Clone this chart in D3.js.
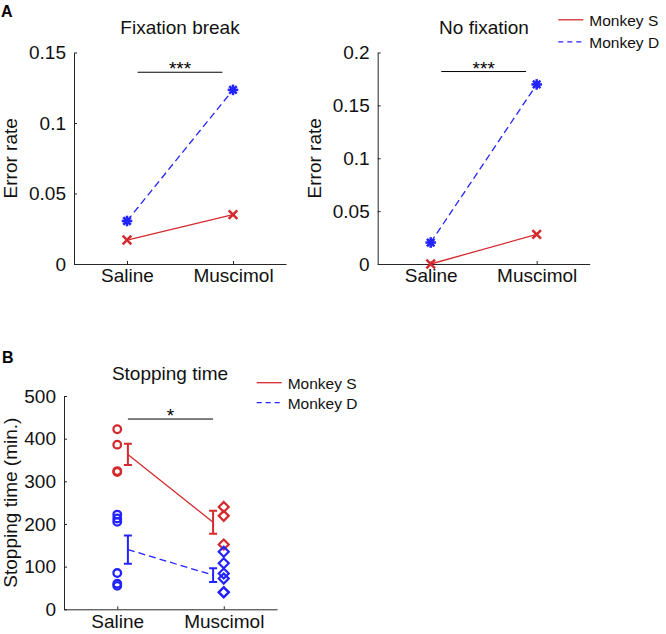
<!DOCTYPE html>
<html><head><meta charset="utf-8">
<script src="https://cdn.jsdelivr.net/npm/d3@7"></script>
<style>
html,body{margin:0;padding:0;background:#fff;}
svg{display:block;font-family:"Liberation Sans",Arial,Helvetica,sans-serif;}
</style></head>
<body><svg id="c" width="666" height="634"></svg>
<script>
// ---- data ----
const groups = ["Saline", "Muscimol"];
const series = ["Monkey S", "Monkey D"];
const fixBreakS = [0.017, 0.035];
const fixBreakD = [0.0305, 0.1235];
const noFixS = [0.0, 0.028];
const noFixD = [0.0203, 0.1698];
const fixTicks = [0, 0.05, 0.1, 0.15];
const noFixTicks = [0, 0.05, 0.1, 0.15, 0.2];
const stopTicks = [0, 100, 200, 300, 400, 500];
const stopS_saline = [422, 386, 324, 322];
const stopS_muscimol = [240, 219, 152];
const stopD_saline = [222, 213, 205, 85, 60, 55];
const stopD_muscimol = [135, 108, 84, 72, 40, 40];
const stopMeanS = [363, 204];
const stopSemS = [25, 27];
const stopMeanD = [140, 80];
const stopSemD = [33, 16];
const sigA1 = {y: 0.136, label: "***"};
const sigA2 = {y: 0.182, label: "***"};
const sigB = {y: 446, label: "*"};

// ---- styles ----
const RED = "#d42a2e", BLUE = "#2323ff", AX = "#262626";
const svg = d3.select("#c");
const FS = 19;

function fmt(d){ return d === 0 ? "0" : String(+d.toFixed(3)); }

function makePanel(o){
  const x = d3.scaleLinear().domain([0.5, 2.5]).range([o.x0, o.x1]);
  const y = d3.scaleLinear().domain(o.ydom).range([o.yb, o.yt]);
  const g = svg.append("g");
  const ya = d3.axisLeft(y).tickValues(o.ticks).tickFormat(fmt).tickSizeInner(-3).tickSizeOuter(0).tickPadding(8);
  const xa = d3.axisBottom(x).tickValues([1, 2]).tickFormat(d => groups[d - 1]).tickSizeInner(-3).tickSizeOuter(0).tickPadding(5);
  const gy = g.append("g").attr("transform", `translate(${o.x0},0)`).call(ya);
  const gx = g.append("g").attr("transform", `translate(0,${o.yb})`).call(xa);
  [gy, gx].forEach(a => {
    a.selectAll("path,line").attr("stroke", AX).attr("stroke-width", 1);
    a.selectAll("text").attr("fill", "#111").attr("font-size", FS).attr("font-family", null);
    a.attr("font-family", null).attr("font-size", null);
  });
  g.append("text").attr("transform", `translate(${o.ylx},${(o.yb + o.yt) / 2}) rotate(-90)`)
    .attr("text-anchor", "middle").attr("font-size", FS).attr("fill", "#111").text(o.ylabel);
  g.append("text").attr("x", o.tx).attr("y", o.ty).attr("text-anchor", "middle")
    .attr("font-size", FS).attr("fill", "#111").text(o.title);
  return {x, y, g};
}

function sig(p, s){
  p.g.append("line").attr("x1", p.x(1.1)).attr("x2", p.x(1.9)).attr("y1", p.y(s.y)).attr("y2", p.y(s.y))
    .attr("stroke", "#000").attr("stroke-width", 1);
  p.g.append("text").attr("x", p.x(1.5)).attr("y", p.y(s.y) + 3).attr("text-anchor", "middle")
    .attr("font-size", 19).attr("fill", "#000").text(s.label);
}

function starMarker(g, cx, cy, color){
  const r = 5.3;
  [0, 45, 90, 135].forEach(a => {
    const t = a * Math.PI / 180;
    g.append("line").attr("x1", cx - r * Math.cos(t)).attr("y1", cy - r * Math.sin(t))
      .attr("x2", cx + r * Math.cos(t)).attr("y2", cy + r * Math.sin(t))
      .attr("stroke", color).attr("stroke-width", 2.5);
  });
  g.append("circle").attr("cx", cx).attr("cy", cy).attr("r", 3).attr("fill", color);
}
function xMarker(g, cx, cy, color){
  const r = 4.3;
  g.append("path").attr("d", `M${cx - r},${cy - r}L${cx + r},${cy + r}M${cx - r},${cy + r}L${cx + r},${cy - r}`)
    .attr("stroke", color).attr("stroke-width", 2.5).attr("fill", "none");
}

function drawA(p, sVals, dVals){
  const line = d3.line().x((d, i) => p.x(i + 1)).y(d => p.y(d));
  p.g.append("path").datum(dVals).attr("d", line).attr("fill", "none").attr("stroke", BLUE)
    .attr("stroke-width", 1.3).attr("stroke-dasharray", "7,4");
  p.g.append("path").datum(sVals).attr("d", line).attr("fill", "none").attr("stroke", RED)
    .attr("stroke-width", 1.3);
  dVals.forEach((v, i) => starMarker(p.g, p.x(i + 1), p.y(v), BLUE));
  sVals.forEach((v, i) => xMarker(p.g, p.x(i + 1), p.y(v), RED));
}

function legend(x0, y0, dy){
  const g = svg.append("g");
  series.forEach((s, i) => {
    const c = i === 0 ? RED : BLUE;
    g.append("line").attr("x1", x0).attr("x2", x0 + 25).attr("y1", y0 + i * dy).attr("y2", y0 + i * dy)
      .attr("stroke", c).attr("stroke-width", 1.3).attr("stroke-dasharray", i === 0 ? null : "5,4");
    g.append("text").attr("x", x0 + 31).attr("y", y0 + i * dy + 6.5).attr("font-size", 15.5)
      .attr("fill", "#111").text(s);
  });
}

// Panel A
svg.append("text").attr("x", 1).attr("y", 17).attr("font-size", 16).attr("font-weight", "bold").text("A");
const pA1 = makePanel({x0: 74, x1: 286, yb: 264, yt: 52.5, ydom: [0, 0.15], ticks: fixTicks,
  ylabel: "Error rate", ylx: 16.8, title: "Fixation break", tx: 180, ty: 33.5});
sig(pA1, sigA1);
drawA(pA1, fixBreakS, fixBreakD);
const pA2 = makePanel({x0: 377.7, x1: 589.7, yb: 264, yt: 52.5, ydom: [0, 0.2], ticks: noFixTicks,
  ylabel: "Error rate", ylx: 321.3, title: "No fixation", tx: 484, ty: 33.5});
sig(pA2, sigA2);
drawA(pA2, noFixS, noFixD);
legend(558.3, 19.8, 22);

// Panel B
svg.append("text").attr("x", 2).attr("y", 363).attr("font-size", 16).attr("font-weight", "bold").text("B");
const pB = makePanel({x0: 64, x1: 277, yb: 609.3, yt: 396, ydom: [0, 500], ticks: stopTicks,
  ylabel: "Stopping time (min.)", ylx: 17.3, title: "Stopping time", tx: 170, ty: 379.5});
sig(pB, sigB);
legend(256.7, 382.7, 20);

function circles(vals, color){
  pB.g.selectAll(null).data(vals).enter().append("circle")
    .attr("cx", pB.x(1)).attr("cy", d => pB.y(d)).attr("r", 3.8)
    .attr("fill", "none").attr("stroke", color).attr("stroke-width", 2.3);
}
function diamonds(vals, color){
  pB.g.selectAll(null).data(vals).enter().append("path")
    .attr("d", d => { const cx = pB.x(2), cy = pB.y(d), r = 5;
      return `M${cx},${cy - r}L${cx + r},${cy}L${cx},${cy + r}L${cx - r},${cy}Z`; })
    .attr("fill", "none").attr("stroke", color).attr("stroke-width", 2.2);
}
circles(stopS_saline, RED);
circles(stopD_saline, BLUE);
diamonds(stopS_muscimol, RED);
diamonds(stopD_muscimol, BLUE);

const ex = [1.1, 1.9];
function meanLine(means, sems, color, dash){
  const line = d3.line().x((d, i) => pB.x(ex[i])).y(d => pB.y(d));
  pB.g.append("path").datum(means).attr("d", line).attr("fill", "none").attr("stroke", color)
    .attr("stroke-width", 1.3).attr("stroke-dasharray", dash);
  means.forEach((m, i) => {
    const cx = pB.x(ex[i]), t = pB.y(m + sems[i]), b = pB.y(m - sems[i]);
    pB.g.append("path").attr("d", `M${cx},${t}L${cx},${b}M${cx - 4},${t}L${cx + 4},${t}M${cx - 4},${b}L${cx + 4},${b}`)
      .attr("stroke", color).attr("stroke-width", 2).attr("fill", "none");
  });
}
meanLine(stopMeanS, stopSemS, RED, null);
meanLine(stopMeanD, stopSemD, BLUE, "7,4");
</script></body></html>
